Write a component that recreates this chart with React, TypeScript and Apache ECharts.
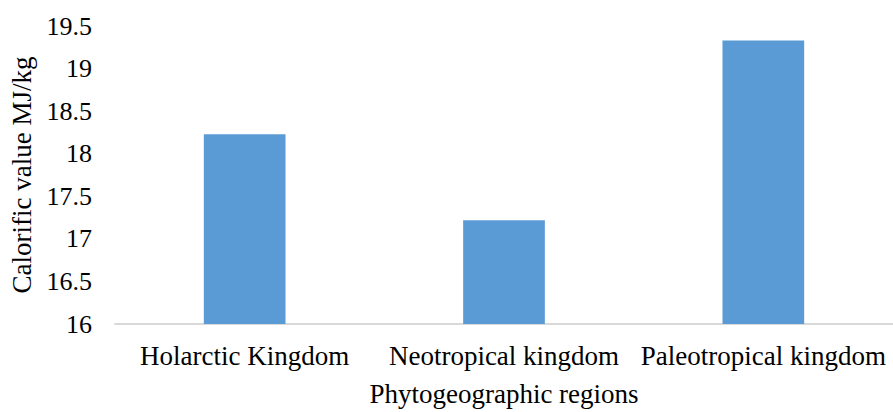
import React, { useEffect, useRef } from "react";
import * as echarts from "echarts";

const regions = ["Holarctic Kingdom", "Neotropical kingdom", "Paleotropical kingdom"];
const calorificValues = [18.23, 17.22, 19.33];
const yTicks = { min: 16, max: 19.5, interval: 0.5 };

const serif = "Liberation Serif";

export default function App() {
  const ref = useRef<HTMLDivElement>(null);

  useEffect(() => {
    document.body.style.margin = "0";
    if (!ref.current) return;
    const chart = echarts.init(ref.current, undefined, { renderer: "svg" });
    chart.setOption({
      animation: false,
      backgroundColor: "#ffffff",
      textStyle: { fontFamily: serif },
      grid: { left: 113, right: 0, top: 26, bottom: 82, containLabel: false },
      xAxis: {
        type: "category",
        data: regions,
        name: "Phytogeographic regions",
        nameLocation: "middle",
        nameGap: 56,
        nameTextStyle: { fontFamily: serif, fontSize: 27, color: "#000" },
        axisLine: { show: true, lineStyle: { color: "#d9d9d9", width: 2 } },
        axisTick: { show: false },
        axisLabel: { fontFamily: serif, fontSize: 27, color: "#000", margin: 18, interval: 0 },
      },
      yAxis: {
        type: "value",
        min: yTicks.min,
        max: yTicks.max,
        interval: yTicks.interval,
        name: "Calorific value MJ/kg",
        nameLocation: "middle",
        nameGap: 80,
        nameTextStyle: { fontFamily: serif, fontSize: 27, color: "#000" },
        axisLine: { show: false },
        axisTick: { show: false },
        splitLine: { show: false },
        axisLabel: {
          fontFamily: serif,
          fontSize: 26,
          color: "#000",
          margin: 23,
          formatter: (v: number) => String(v),
        },
      },
      series: [
        {
          type: "bar",
          data: calorificValues,
          barWidth: "31.5%",
          itemStyle: { color: "#5b9bd5" },
        },
      ],
    });
    return () => chart.dispose();
  }, []);

  return <div ref={ref} style={{ width: 893, height: 412 }} />;
}
